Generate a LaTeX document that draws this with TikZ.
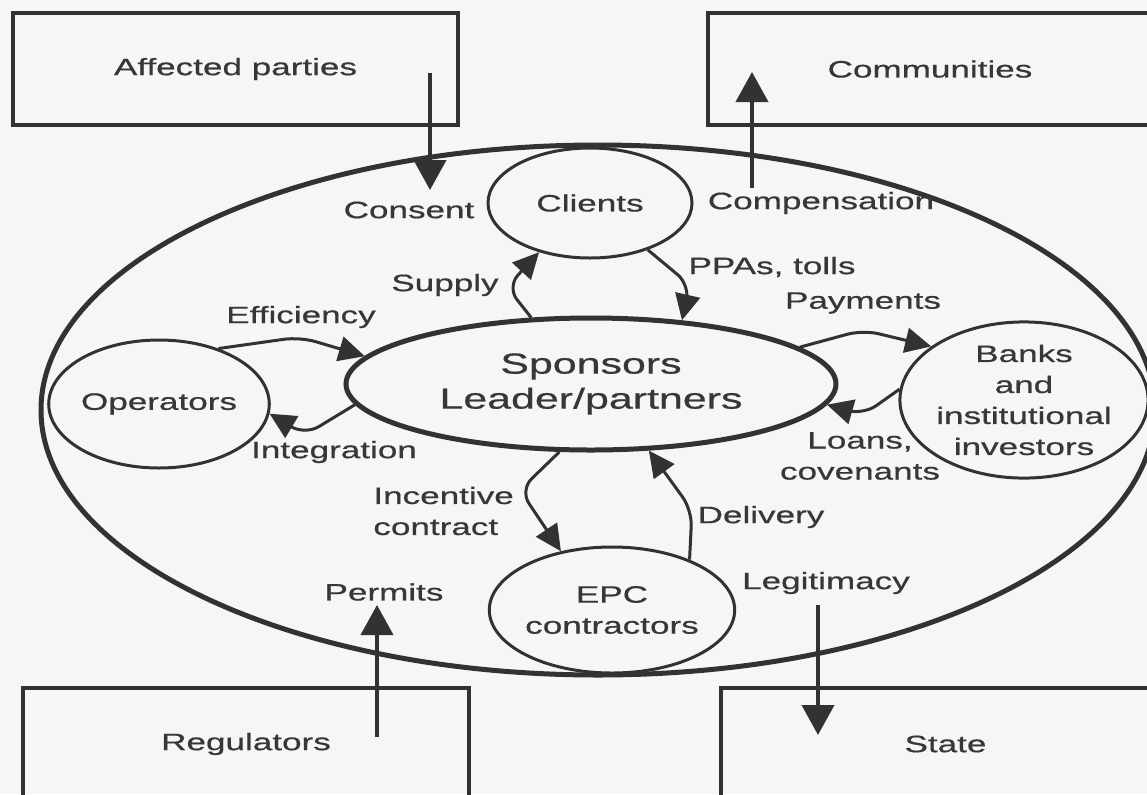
\documentclass[tikz,border=0pt]{standalone}
\usepackage{fontspec}
\setmainfont[FakeStretch=1.48,FakeBold=0.6]{Liberation Sans}
\usetikzlibrary{arrows.meta,shapes.geometric}
\definecolor{ink}{RGB}{50,50,50}
\definecolor{txt}{RGB}{55,55,55}
\definecolor{paper}{RGB}{246,246,246}
\tikzset{
  lbl/.style={text=txt,font=\fontsize{11.85pt}{15.5pt}\selectfont,inner sep=0pt,align=center},
  rectbox/.style={draw=ink,line width=2pt,text=txt,font=\fontsize{11.85pt}{15.5pt}\selectfont,inner sep=0pt},
  circ/.style={ellipse,draw=ink,line width=1.5pt,inner sep=0pt,text=txt,font=\fontsize{11.85pt}{15.5pt}\selectfont,align=center},
  bigarrow/.style={draw=ink,line width=2pt,-{Triangle[length=15pt,width=16pt]}},
  curvearrow/.style={draw=ink,line width=1.5pt,rounded corners=8pt,-{Triangle[length=13pt,width=12.5pt]}},
}
\begin{document}
\begin{tikzpicture}[x=0.5pt,y=-0.5pt]
\useasboundingbox (0,0) rectangle (1147,794);
\clip (0,0) rectangle (1147,794);
\fill[paper] (0,0) rectangle (1147,794);

% outer boxes
\node[rectbox,minimum width=222.5pt,minimum height=56pt] (affected) at (235.5,69) {Affected parties};
\node[rectbox,minimum width=222pt,minimum height=56pt] (communities) at (930,69) {Communities};
\node[rectbox,minimum width=223pt,minimum height=56pt] (regulators) at (246,744) {Regulators};
\node[rectbox,minimum width=224.5pt,minimum height=56pt] (state) at (945.5,744) {State};

% big project ellipse
\node[ellipse,draw=ink,line width=2.5pt,minimum width=557pt,minimum height=265pt,inner sep=0pt] (project) at (598,410) {};

% actors
\node[circ,line width=2.5pt,minimum width=245pt,minimum height=66pt,font=\fontsize{14.5pt}{17.5pt}\selectfont] (sponsors) at (591,384) {Sponsors\\Leader/partners};
\node[circ,minimum width=102pt,minimum height=55pt] (clients) at (590,203) {Clients};
\node[circ,minimum width=89pt,minimum height=64pt] (operators) at (159,404) {Operators};
\node[circ,minimum width=112pt,minimum height=78pt] (banks) at (1024,400) {Banks\\and\\institutional\\investors};
\node[circ,minimum width=109pt,minimum height=63pt] (epc) at (612,610) {EPC\\contractors};

% labels
\node[lbl] (consent) at (409,210) {Consent};
\node[lbl] (compens) at (821,203) {Compensation};
\node[lbl] (supply) at (445,285) {Supply};
\node[lbl] (ppas) at (772,267) {PPAs, tolls};
\node[lbl] (payments) at (863,303) {Payments};
\node[lbl] (efficiency) at (301,317) {Efficiency};
\node[lbl] (integration) at (334,452) {Integration};
\node[lbl] (loans) at (860,456) {Loans,\\covenants};
\node[lbl,align=left,anchor=west] (incentive) at (373,511) {Incentive\\contract};
\node[lbl] (delivery) at (761,517) {Delivery};
\node[lbl] (permits) at (384,592) {Permits};
\node[lbl] (legit) at (826,583) {Legitimacy};

% straight arrows
\coordinate (affsrc) at (430,73);
\coordinate (afftip) at (430,190);
\coordinate (compsrc) at (752,188);
\coordinate (comptip) at (752,72);
\coordinate (permsrc) at (377,737);
\coordinate (permtip) at (377,605);
\coordinate (legsrc) at (818,605);
\coordinate (legtip) at (818,735);
\draw[bigarrow] (affsrc) -- (afftip);
\draw[bigarrow] (compsrc) -- (comptip);
\draw[bigarrow] (permsrc) -- (permtip);
\draw[bigarrow] (legsrc) -- (legtip);

% curved arrows
\draw[curvearrow] (sponsors.132) -- (507,287) -- (clients.224);
\draw[curvearrow] (clients.321) -- (690,285) -- (sponsors.35);
\draw[curvearrow] (operators.43) -- (300,337) -- (sponsors.173);
\draw[curvearrow] (sponsors.185.5) -- (305,435) -- (operators.355);
\draw[curvearrow] (sponsors.10) -- (863,330) -- (banks.150);
\draw[curvearrow] (banks.175) -- (863,415) -- (sponsors.-5);
\draw[curvearrow] (sponsors.245) -- (520,490) -- (epc.131);
\draw[curvearrow] (epc.33) -- (692,510) -- (sponsors.311);
\end{tikzpicture}
\end{document}
